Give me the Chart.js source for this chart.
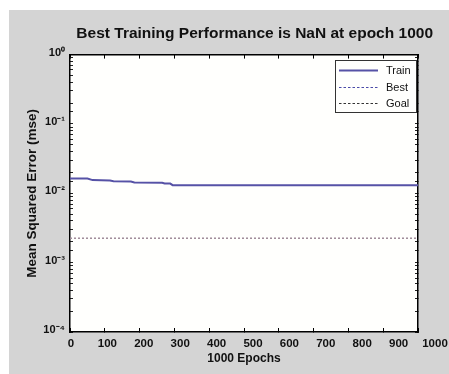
<!DOCTYPE html>
<html>
<head>
<meta charset="utf-8">
<script src="https://cdn.jsdelivr.net/npm/chart.js@4.4.0/dist/chart.umd.min.js"></script>
<style>
  html, body { margin: 0; padding: 0; background: #ffffff; }
  #wrap { width: 449px; height: 374px; position: relative; }
  canvas { display: block; }
</style>
</head>
<body>
<div id="wrap"><canvas id="c" width="449" height="374"></canvas></div>
<script>
// ---- data ----
const TITLE = 'Best Training Performance is NaN at epoch 1000';
const X_TITLE = '1000 Epochs';
const Y_TITLE = 'Mean Squared Error (mse)';
const SERIES_NAMES = ['Train', 'Best', 'Goal'];
const TRAIN_EPOCHS = [0, 50, 65, 115, 125, 175, 185, 265, 272, 288, 295, 1000];
const TRAIN_MSE = [0.0164, 0.0163, 0.0155, 0.0153, 0.0149, 0.0148, 0.0143, 0.0142, 0.0139, 0.0138, 0.0131, 0.0131];
const BEST_EPOCHS = [];   // best performance is NaN
const BEST_MSE = [];
const GOAL_EPOCHS = [0, 1000];
const GOAL_MSE = [0.00225, 0.00225];
const X_TICKS = [0, 100, 200, 300, 400, 500, 600, 700, 800, 900, 1000];
const Y_MIN = 1e-4, Y_MAX = 1;

const FONT = '"Liberation Sans", Arial, Helvetica, sans-serif';
const SUP = { '0': '\u2070', '1': '\u00B9', '2': '\u00B2', '3': '\u00B3', '4': '\u2074', '5': '\u2075', '-': '\u207B' };
function powLabel(v) {
  const e = Math.round(Math.log10(v));
  if (Math.abs(v - Math.pow(10, e)) / v > 1e-6) return '';
  return '10' + String(e).split('').map(c => SUP[c]).join('');
}
const pts = (xs, ys) => xs.map((x, i) => ({ x: x, y: ys[i] }));

const bgPlugin = {
  id: 'bg',
  beforeDraw(chart) {
    const { ctx, chartArea: a } = chart;
    ctx.save();
    ctx.fillStyle = '#d4d4d4';
    ctx.fillRect(9, 10, chart.width - 9, chart.height - 10);
    ctx.fillStyle = '#fffffd';
    ctx.fillRect(a.left, a.top, a.right - a.left, a.bottom - a.top);
    ctx.restore();
  }
};

const legendBox = {
  id: 'legendBox',
  afterDatasetsDraw(chart) {
    const { ctx, chartArea: a } = chart;
    const w = 81, h = 52;
    const left = Math.round(a.right - 2.5 - w), top = Math.round(a.top + 5);
    ctx.save();
    ctx.fillStyle = '#fffffd';
    ctx.fillRect(left, top, w, h);
    ctx.strokeStyle = '#333';
    ctx.lineWidth = 1;
    ctx.strokeRect(left + 0.5, top + 0.5, w, h);
    ctx.font = '11px ' + FONT;
    ctx.textBaseline = 'middle';
    chart.data.datasets.forEach((ds, i) => {
      const y = Math.round(top + 10.3 + i * 16.2) + 0.5;
      ctx.beginPath();
      ctx.setLineDash(ds.legendDash || ds.borderDash || []);
      ctx.strokeStyle = ds.legendColor || ds.borderColor;
      ctx.lineWidth = ds.legendWidth || ds.borderWidth;
      ctx.moveTo(left + 4, y);
      ctx.lineTo(left + 43, y);
      ctx.stroke();
      ctx.setLineDash([]);
      ctx.fillStyle = '#111';
      ctx.fillText(ds.label, left + 51, y);
    });
    ctx.restore();
  }
};

Chart.defaults.color = '#000';
Chart.defaults.font.family = FONT;

new Chart(document.getElementById('c'), {
  type: 'line',
  data: {
    datasets: [
      { label: SERIES_NAMES[0], data: pts(TRAIN_EPOCHS, TRAIN_MSE), borderColor: '#5652a6', borderWidth: 2, pointRadius: 0, tension: 0, fill: false },
      { label: SERIES_NAMES[1], data: pts(BEST_EPOCHS, BEST_MSE), borderColor: '#4a4aa8', borderWidth: 1, borderDash: [2.5, 2], pointRadius: 0, fill: false },
      { label: SERIES_NAMES[2], data: pts(GOAL_EPOCHS, GOAL_MSE), borderColor: '#a08c9a', borderWidth: 1.5, borderDash: [2, 2], pointRadius: 0, fill: false,
        legendColor: '#333', legendWidth: 1, legendDash: [2.5, 2] }
    ]
  },
  options: {
    responsive: false,
    animation: false,
    devicePixelRatio: 1,
    layout: { padding: { top: 0, left: 0, right: 16, bottom: 0 } },
    plugins: {
      legend: { display: false },
      tooltip: { enabled: false },
      title: {
        display: true, text: TITLE, align: 'end', color: '#111',
        font: { size: 15.5, weight: 'bold', family: FONT },
        padding: { top: 24, bottom: 12 }
      }
    },
    scales: {
      x: {
        type: 'linear', position: 'bottom', min: 0, max: 1000,
        ticks: { stepSize: 100, callback: () => '', autoSkip: false, maxRotation: 0, minRotation: 0 },
        grid: { drawOnChartArea: false, drawTicks: true, tickLength: -4, color: '#000', lineWidth: 1 },
        border: { display: true, color: '#000', width: 1.5 },
        afterFit(s) { s.height = 0; s.paddingLeft = 0; s.paddingRight = 0; }
      },
      xl: {
        type: 'linear', position: 'bottom', min: -2.75, max: 953.3,
        afterBuildTicks(s) { s.ticks = X_TICKS.map(v => ({ value: v })); },
        ticks: { autoSkip: false, maxRotation: 0, minRotation: 0, padding: 5, color: '#111',
                 font: { size: 11.5, weight: 'bold', family: FONT }, callback: v => String(v) },
        grid: { display: false, drawTicks: false },
        border: { display: false },
        title: { display: true, text: X_TITLE, color: '#111', font: { size: 12, weight: 'bold', family: FONT }, padding: { top: 0, bottom: 8 } },
        afterFit(s) { s.height = 42; s.paddingLeft = 0; s.paddingRight = 0; }
      },
      xt: {
        type: 'linear', position: 'top', min: 0, max: 1000,
        ticks: { stepSize: 100, callback: () => '', autoSkip: false, maxRotation: 0, minRotation: 0 },
        grid: { drawOnChartArea: false, drawTicks: true, tickLength: -4, color: '#000', lineWidth: 1 },
        border: { display: true, color: '#000', width: 1.5 },
        afterFit(s) { s.height = 0; s.paddingLeft = 0; s.paddingRight = 0; }
      },
      y: {
        type: 'logarithmic', position: 'left', min: Y_MIN, max: Y_MAX,
        ticks: { autoSkip: false, padding: 8, labelOffset: -2, color: '#111',
                 font: { size: 11, weight: 'bold', family: FONT }, callback: v => powLabel(v) },
        grid: { drawOnChartArea: false, drawTicks: true, tickLength: -3, color: '#222', lineWidth: 1 },
        border: { display: true, color: '#000', width: 1.5 },
        title: { display: true, text: Y_TITLE, color: '#111', font: { size: 13.5, weight: 'bold', family: FONT }, padding: { top: 24, bottom: 0 } },
        afterFit(s) { s.width = 70; s.paddingTop = 0; s.paddingBottom = 0; }
      },
      yr: {
        type: 'logarithmic', position: 'right', min: Y_MIN, max: Y_MAX,
        ticks: { autoSkip: false, callback: () => '' },
        grid: { drawOnChartArea: false, drawTicks: true, tickLength: -3, color: '#222', lineWidth: 1 },
        border: { display: true, color: '#000', width: 1.5 },
        afterFit(s) { s.width = 15; s.paddingTop = 0; s.paddingBottom = 0; }
      }
    }
  },
  plugins: [bgPlugin, legendBox]
});
</script>
</body>
</html>
